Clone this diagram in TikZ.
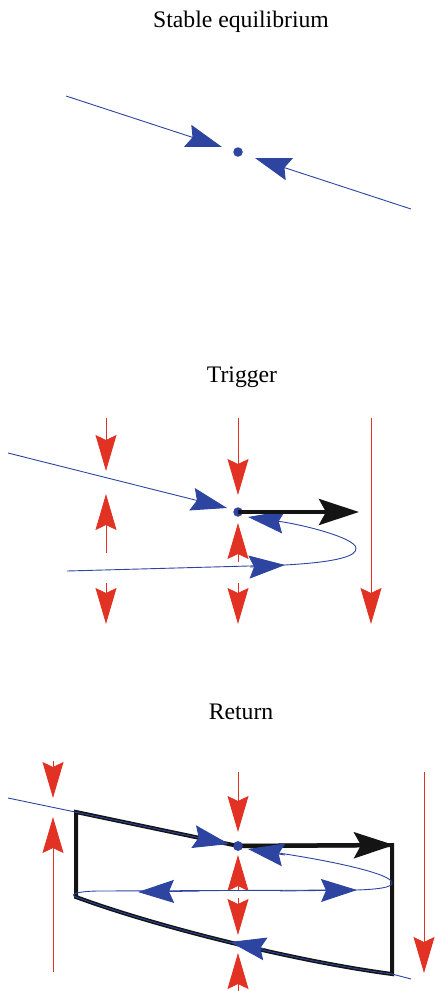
\documentclass[tikz,border=0pt]{standalone}
\usepackage{fontspec}
\setmainfont{Liberation Serif}
\usetikzlibrary{arrows.meta}

\definecolor{flowblue}{RGB}{45,68,160}
\definecolor{forcered}{RGB}{226,50,36}

\begin{document}
\begin{tikzpicture}[
  x=1pt, y=-1pt,
  every node/.style={font=\fontsize{23.7}{28}\selectfont},
  title/.style={anchor=base},
  eqdot/.style={circle, fill=flowblue, inner sep=0pt, minimum size=9.5pt},
  traj/.style={draw=flowblue, line width=0.9pt},
  bluearrow/.style={traj, -{Stealth[length=36pt, width=23pt, inset=5pt]}},
  redarrow/.style={draw=forcered, line width=0.9pt, -{Stealth[length=36pt, width=21pt, inset=5pt]}},
  kick/.style={draw=black!92, line width=4.5pt, -{Stealth[length=40pt, width=26pt, inset=7pt]}},
  loop/.style={draw=black!92, line width=4pt, line join=miter}
]
\useasboundingbox (0,0) rectangle (434,991);

% Stable equilibrium
\node[title] (t1) at (241,27) {Stable equilibrium};
\node[eqdot] (eqA) at (238,152) {};
\coordinate (a1) at (66,96);
\coordinate (a2) at (411,209);
\draw[bluearrow] (a1) -- (222,147);
\draw[bluearrow] (a2) -- (255,158);

% Trigger
\node[title] (t2) at (242,382) {Trigger};
\foreach \x in {106,238}
  \draw[redarrow] (\x,583) -- (\x,624);
\draw[redarrow] (106,418) -- (106,471);
\draw[redarrow] (106,553) -- (106,494);
\draw[redarrow] (238,418) -- (238,495);
\draw[redarrow] (238,562) -- (238,523);
\draw[redarrow] (371,418) -- (371,624);
\coordinate (b1) at (8,453);
\coordinate (b2) at (67,571);
\coordinate (b3) at (285,565);
\coordinate (bturn) at (356,548);
\draw[bluearrow] (b1) -- (227,508);
\draw[traj] (b2) -- (b3);
\draw[bluearrow] (b3) .. controls (338,562) and (357,556) .. (bturn)
  .. controls (355,538) and (305,525) .. (248,517);
\draw[bluearrow] (250,567) -- (b3);
\node[eqdot] (eqB) at (238,512) {};
\draw[kick] (eqB.center) -- (359,512);

% Return
\node[title] (t3) at (241,719) {Return};
\draw[redarrow] (53,761) -- (53,798);
\draw[redarrow] (53,972) -- (53,817);
\draw[redarrow] (238,772) -- (238,832);
\draw[redarrow] (238,891) -- (238,855);
\draw[redarrow] (238,898) -- (238,935);
\draw[redarrow] (238,991) -- (238,953);
\draw[redarrow] (424,772) -- (424,973);
\coordinate (c1) at (76,812);
\coordinate (c2) at (392,845);
\coordinate (c3) at (392,974);
\coordinate (c4) at (76,897);
\node[eqdot] (eqC) at (238,846) {};
% hysteresis loop
\draw[loop] (c4) -- (c1) -- (eqC.center) -- (c2) -- (c3)
  .. controls (300,962) and (160,928) .. (c4) -- cycle;
\draw[kick] (eqC.center) -- (394,845);
% trajectory
\draw[traj] (411,979) -- (c3) .. controls (300,962) and (160,928) .. (c4)
  .. controls (68,894) and (80,891) .. (100,891) -- (357,890)
  .. controls (386,889) and (395,886) .. (391,881)
  .. controls (385,872) and (320,858) .. (250,849);
\draw[bluearrow] (8,798) -- (229,844);
\draw[bluearrow] (285,855) -- (248,849);
\draw[bluearrow] (266,949) -- (230,942);
\draw[bluearrow] (200,891) -- (138,892);
\draw[bluearrow] (280,891) -- (357,890);
\node[eqdot] at (eqC) {};
\end{tikzpicture}
\end{document}
